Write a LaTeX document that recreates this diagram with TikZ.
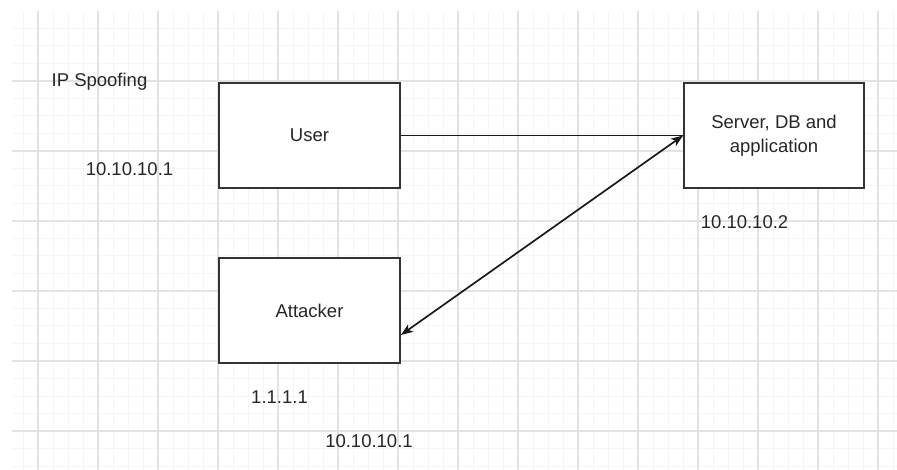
\documentclass[tikz,border=0pt]{standalone}
\usepackage{fontspec}
\setmainfont{Liberation Sans}
\usetikzlibrary{arrows.meta}

\begin{document}
\begin{tikzpicture}[x=1pt, y=-1pt,
    gridminor/.style={draw=black!4, line width=1pt},
    gridmajor/.style={draw=black!11, line width=1.2pt},
    hostbox/.style={draw=black!80, line width=1.8pt, fill=white,
        minimum width=181pt, minimum height=105pt, inner sep=0pt,
        align=center, font=\fontsize{18.5}{24}\selectfont, text=black!85},
    iplabel/.style={inner sep=0pt, font=\fontsize{18.5}{22}\selectfont, text=black!85},
    link/.style={draw=black!90, line width=1.7pt},
    >={Stealth[length=12pt, width=9pt, inset=3pt]}]
    \useasboundingbox (0,0) rectangle (897,470);
    % background grid
    \begin{scope}
        \clip (12,11) rectangle (897,470);
        \foreach \x in {23, 38, ..., 893}
            \draw[gridminor] (\x,11) -- (\x,470);
        \foreach \y in {28.5, 46, ..., 466}
            \draw[gridminor] (12,\y) -- (897,\y);
        \foreach \x in {38, 98, ..., 878}
            \draw[gridmajor] (\x,11) -- (\x,470);
        \foreach \y in {81, 151, ..., 431}
            \draw[gridmajor] (12,\y) -- (897,\y);
    \end{scope}

    \node[hostbox] (user) at (309.5,135.5) {User};
    \node[hostbox] (attacker) at (309.5,310.5) {Attacker};
    \node[hostbox, minimum width=180pt] (server) at (774,135.5) {Server, DB and\\application};

    \node[iplabel] (title) at (99.5,82) {IP Spoofing};
    \node[iplabel] (userip) at (129.5,169.5) {10.10.10.1};
    \node[iplabel] (serverip) at (744.5,222.5) {10.10.10.2};
    \node[iplabel] (attackerip) at (279.5,397) {1.1.1.1};
    \node[iplabel] (spoofip) at (369,441) {10.10.10.1};

    \draw[link] (user.east) -- (server.west);
    \draw[link, <->] (attacker.-15) -- (server.west);
\end{tikzpicture}
\end{document}
